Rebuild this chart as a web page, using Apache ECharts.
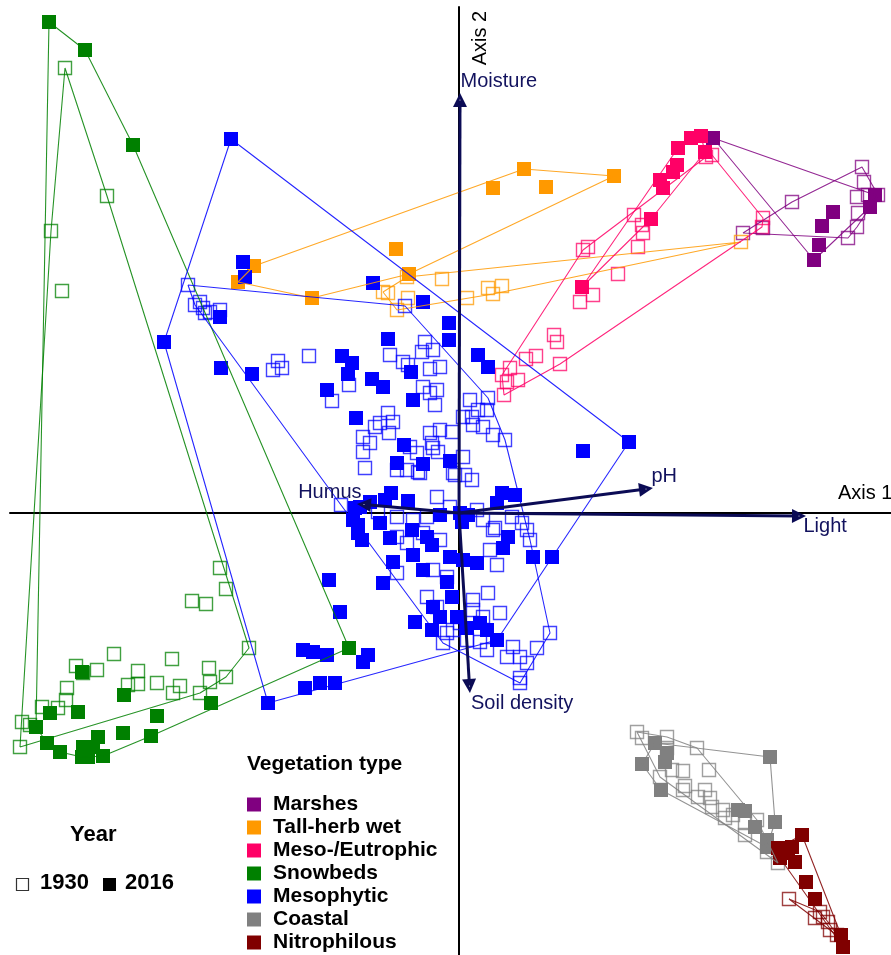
<!DOCTYPE html>
<html>
<head>
<meta charset="utf-8">
<script src="https://cdn.jsdelivr.net/npm/echarts@6/dist/echarts.min.js"></script>
<style>
html,body{margin:0;padding:0;background:#fff}
#main{width:891px;height:955px}
</style>
</head>
<body>
<div id="main"></div>
<script>
// vegetation types (legend order) and their colours
const types = ['Marshes', 'Tall-herb wet', 'Meso-/Eutrophic', 'Snowbeds', 'Mesophytic', 'Coastal', 'Nitrophilous'];
const typeColors = ['#800080', '#ff9900', '#ff0066', '#008000', '#0000ff', '#808080', '#800000'];

// site scores [axis1, axis2]; 1930 = open squares, 2016 = filled squares
const marshes1930 = [[4.03,3.46],[4.05,3.31],[3.98,3.16],[4.09,3.18],[4.19,3.18],[3.99,3.00],[3.98,2.86],[3.89,2.75],[3.33,3.11],[3.04,2.85],[2.84,2.80]];
const marshes2016 = [[2.54,3.75],[3.74,3.01],[3.63,2.87],[3.60,2.68],[3.55,2.53],[4.11,3.06],[4.16,3.18]];

const tallHerb1930 = [[-0.76,2.21],[-0.71,2.20],[-0.52,2.36],[-0.17,2.34],[-0.51,2.15],[-0.62,2.03],[0.08,2.15],[0.29,2.25],[0.43,2.27],[0.34,2.19],[2.82,2.71]];
const tallHerb2016 = [[0.65,3.44],[0.34,3.25],[0.87,3.26],[1.55,3.37],[-2.05,2.47],[-2.21,2.31],[-1.47,2.15],[-0.63,2.64],[-0.50,2.39]];

const eutro1930 = [[2.47,3.56],[2.53,3.58],[3.04,2.95],[3.03,2.86],[1.75,2.98],[1.83,2.88],[1.84,2.80],[1.79,2.66],[1.29,2.66],[1.24,2.63],[1.59,2.39],[1.34,2.18],[1.21,2.11],[0.95,1.78],[0.98,1.71],[0.77,1.57],[0.67,1.54],[1.01,1.49],[0.51,1.45],[0.43,1.38],[0.59,1.33],[0.48,1.31],[0.45,1.18]];
const eutro2016 = [[2.42,3.77],[2.32,3.75],[2.19,3.65],[2.46,3.61],[2.18,3.48],[2.14,3.41],[2.01,3.33],[2.04,3.25],[1.92,2.94],[1.23,2.26]];

const snow1930 = [[-3.94,4.45],[-3.52,3.17],[-4.08,2.82],[-3.97,2.22],[-2.39,-0.55],[-2.33,-0.76],[-2.67,-0.88],[-2.53,-0.91],[-2.10,-1.35],[-3.45,-1.41],[-2.87,-1.46],[-3.83,-1.53],[-3.76,-1.60],[-3.62,-1.57],[-3.21,-1.58],[-2.50,-1.55],[-2.33,-1.64],[-2.49,-1.69],[-3.31,-1.72],[-3.21,-1.71],[-3.02,-1.70],[-2.79,-1.73],[-2.86,-1.80],[-2.59,-1.80],[-3.92,-1.75],[-3.93,-1.87],[-4.01,-1.95],[-4.17,-1.94],[-4.37,-2.09],[-4.29,-2.12],[-4.39,-2.34]];
const snow2016 = [[-4.10,4.91],[-3.74,4.63],[-3.26,3.68],[-1.10,-1.35],[-2.48,-1.90],[-3.02,-2.03],[-3.08,-2.23],[-3.36,-2.20],[-3.35,-1.82],[-3.81,-1.99],[-4.09,-2.00],[-4.23,-2.14],[-3.77,-1.59],[-4.12,-2.30],[-3.99,-2.39],[-3.76,-2.34],[-3.71,-2.44],[-3.61,-2.24],[-3.56,-2.43],[-3.77,-2.44],[-3.66,-2.34]];

const meso1930 = [[-2.71,2.28],[-2.64,2.08],[-2.59,2.11],[-2.56,2.05],[-2.54,2.00],[-2.49,2.01],[-2.39,2.03],[-1.81,1.52],[-1.86,1.43],[-1.77,1.45],[-1.50,1.57],[-0.69,1.58],[-1.10,1.28],[-1.27,1.12],[-0.71,1.00],[-0.66,0.91],[-0.79,0.90],[-0.84,0.86],[-0.70,0.80],[-0.89,0.70],[-0.96,0.61],[-0.94,0.45],
  [-0.54,2.07],[-0.34,1.71],[-0.26,1.63],[-0.37,1.61],[-0.56,1.51],[-0.51,1.48],[-0.29,1.44],[-0.19,1.46],[-0.36,1.26],[-0.29,1.20],[-0.22,1.23],[-0.24,1.08],[0.11,1.13],[0.29,1.15],[0.19,1.03],[0.28,1.03],[0.13,0.96],[0.14,0.88],[0.04,0.96],[-0.29,0.80],[-0.19,0.83],[-0.07,0.81],[0.34,0.78],[0.46,0.73],
  [-0.49,0.66],[-0.42,0.60],[-0.27,0.70],[-0.21,0.61],[0.04,0.56],[-0.52,0.43],[-0.41,0.41],[-0.04,0.38],[0.13,0.33],[-0.96,0.76],[-0.26,0.65],[0.06,0.38],[-0.22,0.16],[0.24,0.86],[-0.62,-0.04],[-0.46,-0.07],[-0.32,-0.04],[0.24,-0.07],[0.36,-0.15],[0.53,-0.04],[0.63,-0.10],[-0.62,-0.24],[-0.81,0.01],[-0.09,0.06],[0.18,0.03],
  [0.68,-0.17],[0.71,-0.27],[0.34,-0.17],[0.31,-0.37],[0.38,-0.52],[-0.36,-0.20],[-0.19,-0.27],[-0.52,-0.30],[-0.62,-0.60],[-0.26,-0.57],[-0.12,-0.64],[0.14,-0.87],[0.29,-0.80],[-0.32,-0.84],[-0.22,-0.94],[0.14,-0.97],[0.24,-1.04],[0.41,-1.00],[0.91,-1.20],[0.78,-1.35],[0.54,-1.34],[0.61,-1.44],[0.48,-1.44],[0.68,-1.50],[0.61,-1.65],[0.61,-1.70],
  [-0.12,-1.20],[0.08,-1.27],[0.21,-1.29],[0.01,-1.10],[-0.06,-1.17],[0.28,-1.37],[-0.16,-1.30],[-0.62,0.43],[-0.39,0.40],[-0.06,0.40],[-1.18,0.08]];
const meso2016 = [[-2.28,3.74],[-2.16,2.51],[-2.14,2.36],[-2.39,1.96],[-2.95,1.71],[-2.38,1.45],[-2.07,1.39],[-0.86,2.30],[-0.71,1.74],[-1.17,1.57],[-1.07,1.50],[-1.11,1.39],[-1.32,1.23],[-0.87,1.34],[-0.76,1.26],[-1.03,0.95],[-0.36,2.11],[-0.10,1.90],[-0.10,1.73],[0.19,1.58],[0.29,1.46],[-0.48,1.41],[-0.46,1.13],
  [-0.55,0.68],[-0.62,0.50],[-0.36,0.49],[-0.09,0.52],[-0.68,0.20],[-0.51,0.12],[-0.74,0.13],[-0.89,0.11],[-1.04,0.05],[-1.01,-0.12],[-0.79,-0.10],[-0.69,-0.25],[-0.47,-0.17],[-0.32,-0.24],[-0.19,-0.02],[0.03,-0.09],[0.09,-0.02],[0.43,0.20],[0.56,0.18],[0.38,0.10],[0.49,-0.24],[-0.99,0.06],[-1.06,-0.07],[-1.01,-0.20],[-0.97,-0.27],
  [-0.27,-0.32],[-0.46,-0.42],[-0.66,-0.49],[-0.36,-0.57],[-0.09,-0.44],[0.04,-0.47],[0.18,-0.50],[0.01,0.00],[0.44,-0.35],[0.74,-0.44],[0.93,-0.44],[-1.30,-0.67],[-0.76,-0.70],[-1.19,-0.99],[-0.44,-1.09],[-0.26,-0.94],[-0.19,-1.04],[-0.12,-0.69],[-0.07,-0.84],[-0.27,-1.17],[-0.02,-1.04],[0.21,-1.10],[0.28,-1.17],[0.38,-1.27],[0.08,-1.15],
  [-1.56,-1.37],[-1.46,-1.39],[-1.32,-1.42],[-0.91,-1.42],[-0.96,-1.49],[-1.54,-1.75],[-1.39,-1.70],[-1.24,-1.70],[-1.91,-1.90],[1.70,0.71],[1.24,0.62]];

const coastal1930 = [[1.78,-2.19],[1.83,-2.25],[2.08,-2.24],[2.38,-2.35],[2.50,-2.57],[2.08,-2.35],[2.13,-2.57],[2.24,-2.58],[2.01,-2.64],[2.26,-2.73],[2.24,-2.77],[2.46,-2.77],[2.39,-2.84],[2.51,-2.85],[2.53,-2.94],[2.64,-2.97],[2.66,-3.05],[2.74,-3.02],[2.86,-3.10],[2.98,-3.07],[2.86,-3.22],[3.08,-3.39],[3.19,-3.50]];
const coastal2016 = [[1.96,-2.30],[2.08,-2.40],[2.06,-2.49],[1.83,-2.51],[2.02,-2.77],[3.11,-2.44],[3.16,-3.09],[2.79,-2.97],[2.86,-2.98],[2.96,-3.14],[3.08,-3.27],[3.08,-3.34]];

const nitro1930 = [[3.30,-3.86],[3.61,-3.99],[3.56,-4.05],[3.69,-4.09],[3.71,-4.17],[3.78,-4.22],[3.64,-4.04]];
const nitro2016 = [[3.43,-3.22],[3.33,-3.34],[3.19,-3.35],[3.21,-3.45],[3.36,-3.49],[3.29,-3.40],[3.47,-3.69],[3.56,-3.86],[3.82,-4.22],[3.84,-4.34]];

// environmental vectors (fitted arrows)
const vecNames = ['Moisture', 'Light', 'pH', 'Humus', 'Soil density'];
const vecX = [0.01, 3.40, 1.87, -0.95, 0.105];
const vecY = [4.13, -0.03, 0.24, 0.085, -1.73];

const groups1930 = [marshes1930, tallHerb1930, eutro1930, snow1930, meso1930, coastal1930, nitro1930];
const groups2016 = [marshes2016, tallHerb2016, eutro2016, snow2016, meso2016, coastal2016, nitro2016];

// convex hull (monotone chain), closed for drawing
function hull(pts) {
    const p = pts.slice().sort((a, b) => a[0] - b[0] || a[1] - b[1]);
    const cross = (o, a, b) => (a[0] - o[0]) * (b[1] - o[1]) - (a[1] - o[1]) * (b[0] - o[0]);
    const lower = [], upper = [];
    for (const q of p) {
        while (lower.length >= 2 && cross(lower[lower.length - 2], lower[lower.length - 1], q) <= 0) lower.pop();
        lower.push(q);
    }
    for (let i = p.length - 1; i >= 0; i--) {
        const q = p[i];
        while (upper.length >= 2 && cross(upper[upper.length - 2], upper[upper.length - 1], q) <= 0) upper.pop();
        upper.push(q);
    }
    upper.pop(); lower.pop();
    const h = lower.concat(upper);
    h.push(h[0]);
    return h;
}

const series = [];
types.forEach((name, i) => {
    const c = typeColors[i];
    series.push({
        name: name + ' 1930', type: 'scatter', clip: false, symbol: 'rect', symbolSize: 13,
        itemStyle: {color: 'rgba(0,0,0,0)', borderColor: c, borderWidth: 1.4, opacity: 0.75},
        data: groups1930[i], z: 2, silent: true
    });
    series.push({
        name: name, type: 'scatter', clip: false, symbol: 'rect', symbolSize: 14,
        itemStyle: {color: c, opacity: 1},
        data: groups2016[i], z: 2, silent: true
    });
});
types.forEach((name, i) => {
    [groups1930[i], groups2016[i]].forEach(g => {
        series.push({
            type: 'line', data: hull(g), symbol: 'none', silent: true, z: 3,
            lineStyle: {color: typeColors[i], width: 1.1, opacity: 0.85}
        });
    });
});

// vectors
series.push({
    type: 'lines', coordinateSystem: 'cartesian2d', z: 5, silent: true,
    symbol: ['none', 'triangle'], symbolSize: [0, 14],
    lineStyle: {color: '#0b0b55', width: 3, opacity: 1, curveness: 0},
    data: vecNames.map((n, i) => ({coords: [[0, 0], [vecX[i], vecY[i]]]}))
});
const labelPos = [[1, -18, 'left'], [5, 11, 'left'], [6, -12, 'left'], [-2, -12, 'right'], [2, 18, 'left']];
series.push({
    type: 'scatter', z: 6, silent: true, symbolSize: 1, clip: false,
    itemStyle: {color: '#fff', opacity: 1},
    data: vecNames.map((n, i) => ({
        name: n, value: [vecX[i], vecY[i]],
        label: {show: true, formatter: n, position: [labelPos[i][0], labelPos[i][1]], align: labelPos[i][2],
            verticalAlign: 'middle', color: '#12125e', opacity: 1, fontSize: 20, fontFamily: 'Liberation Sans'}
    }))
});

const chart = echarts.init(document.getElementById('main'));
chart.setOption({
    backgroundColor: '#fff',
    animation: false,
    grid: {left: 10, top: 7, right: 0, bottom: 0},
    xAxis: {
        type: 'value', min: -4.49, max: 4.32,
        axisLine: {onZero: true, lineStyle: {color: '#000', width: 2}},
        axisTick: {show: false}, axisLabel: {show: false}, splitLine: {show: false}
    },
    yAxis: {
        type: 'value', min: -4.42, max: 5.06,
        axisLine: {onZero: true, lineStyle: {color: '#000', width: 2}},
        axisTick: {show: false}, axisLabel: {show: false}, splitLine: {show: false}
    },
    legend: {
        data: types, orient: 'vertical', left: 247, top: 794, height: 200, padding: 0,
        icon: 'rect', itemWidth: 14, itemHeight: 14, itemGap: 2,
        selectedMode: false,
        textStyle: {fontFamily: 'Liberation Sans', fontSize: 21, fontWeight: 'bold', color: '#000', lineHeight: 20, padding: [0, 0, 0, 7]}
    },
    graphic: [
        {type: 'text', left: 838, top: 483, style: {text: 'Axis 1', fontSize: 20, fontFamily: 'Liberation Sans', fill: '#000'}},
        {type: 'text', x: 480, y: 38, rotation: Math.PI / 2,
            style: {text: 'Axis 2', fontSize: 20, fontFamily: 'Liberation Sans', fill: '#000', align: 'center', verticalAlign: 'middle'}},
        {type: 'text', left: 247, top: 754, style: {text: 'Vegetation type', fontSize: 21, fontWeight: 'bold', fontFamily: 'Liberation Sans', fill: '#000'}},
        {type: 'text', left: 70, top: 824, style: {text: 'Year', fontSize: 22, fontWeight: 'bold', fontFamily: 'Liberation Sans', fill: '#000'}},
        {type: 'rect', shape: {x: 16.5, y: 878.5, width: 12, height: 12}, style: {fill: '#fff', stroke: '#333', lineWidth: 1.2}},
        {type: 'text', left: 40, top: 872, style: {text: '1930', fontSize: 22, fontWeight: 'bold', fontFamily: 'Liberation Sans', fill: '#000'}},
        {type: 'rect', shape: {x: 103, y: 878, width: 13, height: 13}, style: {fill: '#000'}},
        {type: 'text', left: 125, top: 872, style: {text: '2016', fontSize: 22, fontWeight: 'bold', fontFamily: 'Liberation Sans', fill: '#000'}}
    ],
    series: series
});
</script>
</body>
</html>
